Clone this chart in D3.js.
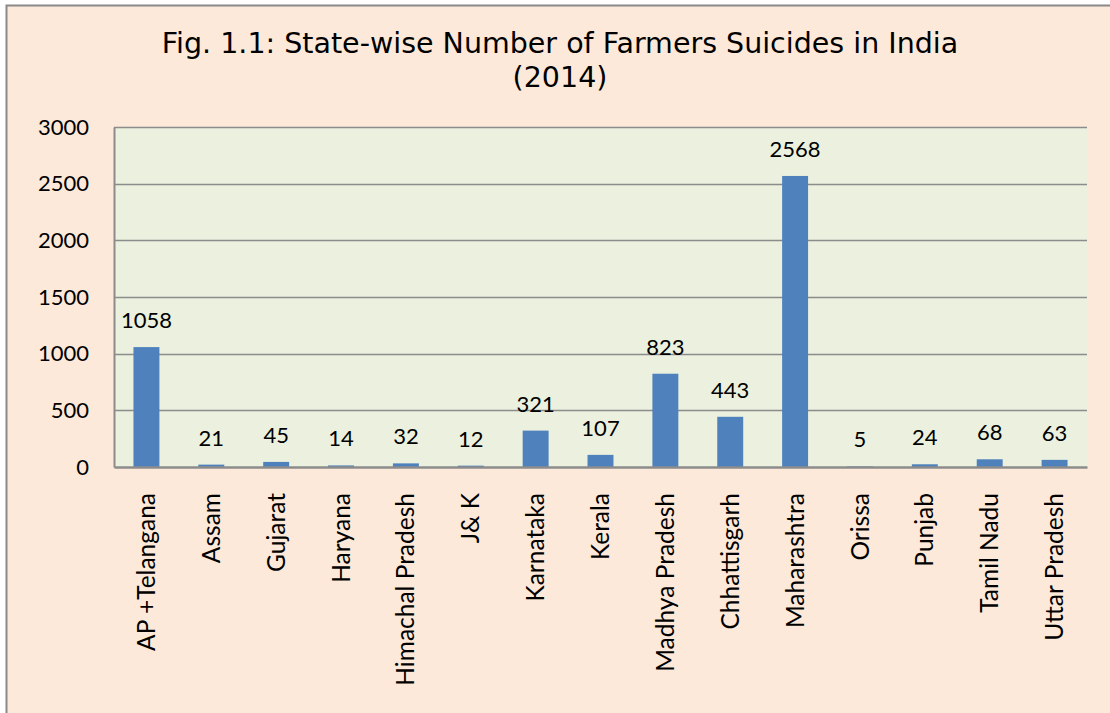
<!DOCTYPE html>
<html>
<head>
<meta charset="utf-8">
<script src="https://cdn.jsdelivr.net/npm/d3@7"></script>
<style>
  html, body { margin: 0; padding: 0; background: #ffffff; }
  svg { display: block; }
</style>
</head>
<body>
<svg id="chart" width="1110" height="713"></svg>
<script>
const categories = ["AP +Telangana", "Assam", "Gujarat", "Haryana", "Himachal Pradesh", "J& K", "Karnataka", "Kerala", "Madhya Pradesh", "Chhattisgarh", "Maharashtra", "Orissa", "Punjab", "Tamil Nadu", "Uttar Pradesh"];
const suicides = [1058, 21, 45, 14, 32, 12, 321, 107, 823, 443, 2568, 5, 24, 68, 63];
const yTicks = [0, 500, 1000, 1500, 2000, 2500, 3000];
const titleLines = ["Fig. 1.1: State-wise Number of Farmers Suicides in India", "(2014)"];

const W = 1110, H = 713;
const svg = d3.select("#chart");
const labelFont = "Lato, 'Open Sans', sans-serif";
const titleFont = "'DejaVu Sans', Verdana, sans-serif";

// outer chart background & border
svg.append("rect").attr("x", 6.5).attr("y", 5.5).attr("width", W + 10).attr("height", H + 10)
  .attr("fill", "#FDE9D9").attr("stroke", "#898989").attr("stroke-width", 2);

const plot = { left: 114, top: 127, right: 1087, bottom: 467 };

const x = d3.scaleBand().domain(categories).range([plot.left, plot.right]).paddingInner(0.6).paddingOuter(0.3);
const y = d3.scaleLinear().domain([0, 3000]).range([plot.bottom, plot.top]);

// plot area
svg.append("rect").attr("x", plot.left).attr("y", plot.top)
  .attr("width", plot.right - plot.left).attr("height", plot.bottom - plot.top)
  .attr("fill", "#EBF1DE");

// gridlines
svg.append("g").selectAll("line").data(yTicks.filter(d => d > 0)).join("line")
  .attr("x1", plot.left).attr("x2", plot.right)
  .attr("y1", d => Math.round(y(d)) + 0.5).attr("y2", d => Math.round(y(d)) + 0.5)
  .attr("stroke", "#8C8C8C").attr("stroke-width", 1.5);

// bars
svg.append("g").selectAll("rect").data(suicides).join("rect")
  .attr("x", (d, i) => x(categories[i]))
  .attr("width", x.bandwidth())
  .attr("y", d => y(d))
  .attr("height", d => y(0) - y(d))
  .attr("fill", "#4F81BD");

// y axis
const yAxis = d3.axisLeft(y).tickValues(yTicks).tickSize(0).tickPadding(25).tickFormat(d3.format("d"));
const yg = svg.append("g").attr("transform", `translate(${plot.left},0)`).call(yAxis);
yg.select(".domain").attr("stroke", "#8C8C8C").attr("stroke-width", 2);
yg.selectAll("text").attr("font-family", labelFont).attr("font-size", 22).attr("fill", "#000");

// x axis
const xAxis = d3.axisBottom(x).tickSize(0).tickPadding(0);
const xg = svg.append("g").attr("transform", `translate(0,${plot.bottom})`).call(xAxis);
xg.select(".domain").attr("stroke", "#8C8C8C").attr("stroke-width", 2.5);
xg.selectAll("text")
  .attr("font-family", labelFont).attr("font-size", 24.5).attr("fill", "#000")
  .attr("transform", "rotate(-90)")
  .attr("text-anchor", "end")
  .attr("x", -26).attr("y", 0).attr("dy", "0.35em");

// data labels
svg.append("g").selectAll("text").data(suicides).join("text")
  .attr("x", (d, i) => x(categories[i]) + x.bandwidth() / 2)
  .attr("y", d => y(d) - 19)
  .attr("text-anchor", "middle")
  .attr("font-family", labelFont).attr("font-size", 22).attr("fill", "#000")
  .text(d => d);

// title
svg.append("g").selectAll("text").data(titleLines).join("text")
  .attr("x", 560).attr("y", (d, i) => 53 + i * 34)
  .attr("text-anchor", "middle")
  .attr("font-family", titleFont).attr("font-size", 28.5).attr("fill", "#000")
  .text(d => d);
</script>
</body>
</html>
